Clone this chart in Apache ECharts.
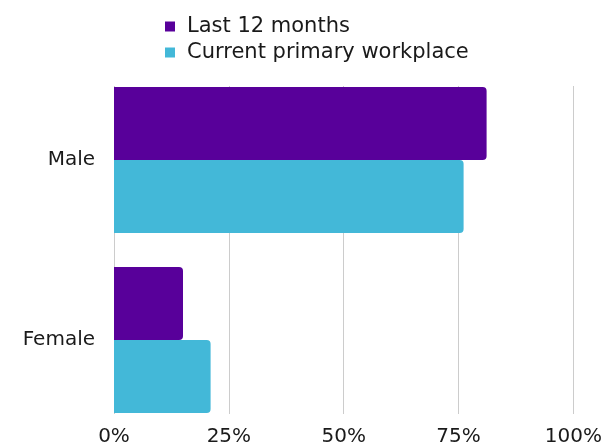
<!DOCTYPE html>
<html>
<head>
<meta charset="utf-8">
<script src="https://cdn.jsdelivr.net/npm/echarts@6/dist/echarts.min.js"></script>
<style>
  html, body { margin: 0; padding: 0; background: #ffffff; }
  #chart { width: 605px; height: 448px; }
</style>
</head>
<body>
<div id="chart"></div>
<script>
// Share of respondents by gender, two periods
const categories = ['Male', 'Female'];
const seriesNames = ['Last 12 months', 'Current primary workplace'];
const last12Months = [81, 15];
const currentWorkplace = [76, 21];
const xTicks = [0, 25, 50, 75, 100];

const FONT = '"DejaVu Sans", "Noto Sans", sans-serif';
const TEXT = '#1a1a1a';
const PURPLE = '#58009a';
const CYAN = '#43b8d8';

const chart = echarts.init(document.getElementById('chart'), null, { renderer: 'canvas' });

const option = {
  animation: false,
  backgroundColor: '#ffffff',
  legend: {
    orient: 'vertical',
    left: 160,
    top: 11,
    icon: 'rect',
    itemWidth: 10,
    itemHeight: 10,
    itemGap: 5,
    data: seriesNames,
    textStyle: { fontFamily: FONT, fontSize: 21, color: TEXT, lineHeight: 21, padding: [0, 0, 0, 7] }
  },
  grid: [
    // bar area
    { left: 114, right: 31, top: 70, bottom: 18, containLabel: false },
    // tick / gridline area
    { left: 114, right: 31, top: 86, bottom: 34, containLabel: false }
  ],
  xAxis: [
    {
      gridIndex: 0, type: 'value', min: xTicks[0], max: xTicks[xTicks.length - 1], interval: 25,
      show: false
    },
    {
      gridIndex: 1, type: 'value', min: xTicks[0], max: xTicks[xTicks.length - 1], interval: 25,
      axisLine: { show: false }, axisTick: { show: false },
      splitLine: { show: true, lineStyle: { color: '#cccccc', width: 1 } },
      axisLabel: {
        margin: 13, fontFamily: FONT, fontSize: 20, color: TEXT,
        formatter: v => v + '%'
      }
    }
  ],
  yAxis: [
    {
      gridIndex: 0, type: 'category', data: categories, inverse: true,
      axisLine: { show: false }, axisTick: { show: false },
      axisLabel: { margin: 19, fontFamily: FONT, fontSize: 20, color: TEXT }
    },
    {
      gridIndex: 1, type: 'value', min: 0, max: 1, show: false
    }
  ],
  series: [
    {
      name: seriesNames[0], type: 'bar', xAxisIndex: 0, yAxisIndex: 0,
      data: last12Months, barWidth: 73, barGap: '0%', barCategoryGap: 33,
      itemStyle: { color: PURPLE, borderRadius: [0, 4, 4, 0] }
    },
    {
      name: seriesNames[1], type: 'bar', xAxisIndex: 0, yAxisIndex: 0,
      data: currentWorkplace, barWidth: 73, barGap: '0%', barCategoryGap: 33,
      itemStyle: { color: CYAN, borderRadius: [0, 4, 4, 0] }
    },
    {
      // carries the tick grid; draws nothing
      type: 'scatter', xAxisIndex: 1, yAxisIndex: 1, data: [], silent: true
    }
  ]
};

chart.setOption(option);
</script>
</body>
</html>
